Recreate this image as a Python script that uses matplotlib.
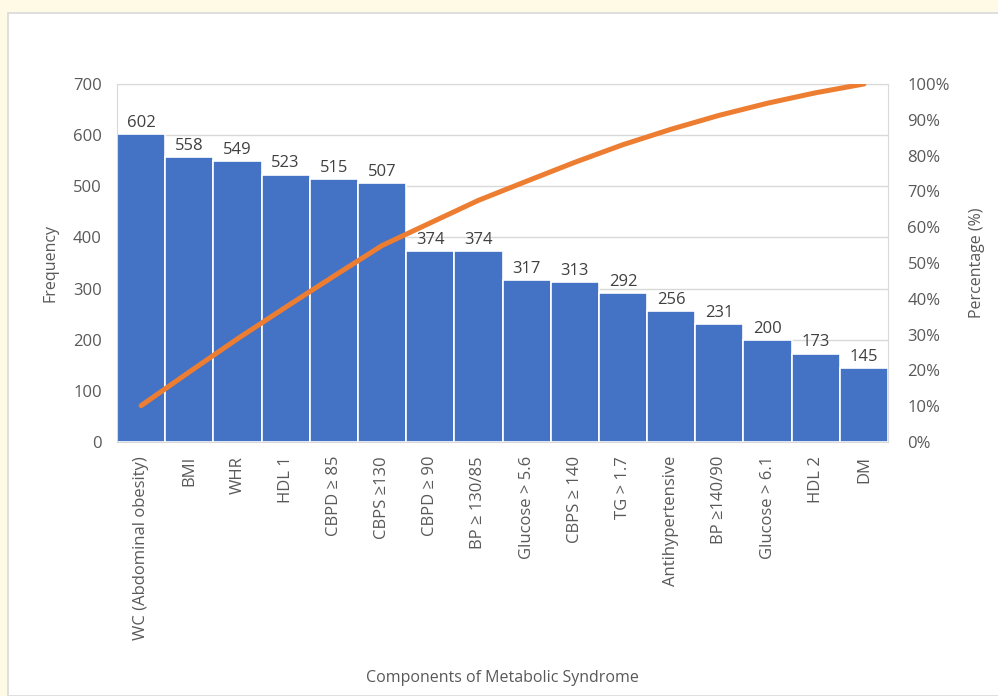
import matplotlib.pyplot as plt
import numpy as np
from matplotlib.patches import Rectangle

components = ["WC (Abdominal obesity)", "BMI", "WHR", "HDL 1", "CBPD \u2265 85",
              "CBPS \u2265130", "CBPD \u2265 90", "BP \u2265 130/85", "Glucose > 5.6",
              "CBPS \u2265 140", "TG > 1.7", "Antihypertensive", "BP \u2265140/90",
              "Glucose > 6.1", "HDL 2", "DM"]
frequency = [602, 558, 549, 523, 515, 507, 374, 374, 317, 313, 292, 256, 231, 200, 173, 145]
freq_ticks = [0, 100, 200, 300, 400, 500, 600, 700]
pct_ticks = [0, 10, 20, 30, 40, 50, 60, 70, 80, 90, 100]

BAR = "#4472C4"
LINE = "#ED7D31"
TXT = "#595959"
FS = 12
plt.rcParams['font.family'] = ['Open Sans', 'DejaVu Sans']

fig = plt.figure(figsize=(9.98, 6.96), dpi=100)
fig.patch.set_facecolor("#FFFAE6")
# white chart panel with a thin grey border
fig.add_artist(Rectangle((8 / 998, 0), 1.0, 1 - 13 / 696, transform=fig.transFigure,
                         facecolor="white", edgecolor="#D9D9D9", linewidth=1.2, zorder=0))

ax = fig.add_axes([117 / 998, 1 - 442 / 696, (888 - 117) / 998, (442 - 84) / 696])
x = np.arange(len(components))
ax.bar(x, frequency, width=1.0, color=BAR, edgecolor="white", linewidth=1.2, zorder=2)
for xi, v in zip(x, frequency):
    ax.text(xi, v + 6, str(v), ha="center", va="bottom", fontsize=FS, color="#404040", zorder=4)

ax.set_xlim(-0.5, len(components) - 0.5)
ax.set_ylim(0, 700)
ax.set_yticks(freq_ticks)
ax.yaxis.grid(True, color="#D9D9D9", linewidth=1)
ax.set_axisbelow(True)
ax.set_xticks(x)
ax.set_xticklabels(components, rotation=90, fontsize=FS, color=TXT, va="top")
ax.tick_params(axis="both", length=0, labelsize=FS, colors=TXT)
ax.tick_params(axis="x", pad=10)
ax.tick_params(axis="y", pad=11)
for s in ax.spines.values():
    s.set_color("#D9D9D9")
ax.set_ylabel("Frequency", fontsize=11.5, color=TXT, labelpad=10)
ax.set_xlabel("Components of Metabolic Syndrome", fontsize=11.5, color=TXT, labelpad=22)

ax2 = ax.twinx()
cum_pct = np.cumsum(frequency) / np.sum(frequency) * 100
ax2.plot(x, cum_pct, color=LINE, linewidth=3.6, solid_capstyle="round", zorder=5)
ax2.set_ylim(0, 100)
ax2.set_yticks(pct_ticks)
ax2.set_yticklabels([f"{t}%" for t in pct_ticks])
ax2.tick_params(axis="y", length=0, pad=14, labelsize=FS, colors=TXT)
for s in ax2.spines.values():
    s.set_visible(False)
ax2.set_ylabel("Percentage (%)", fontsize=11.5, color=TXT, labelpad=14)

fig.savefig("out.png", dpi=100, facecolor=fig.get_facecolor())
